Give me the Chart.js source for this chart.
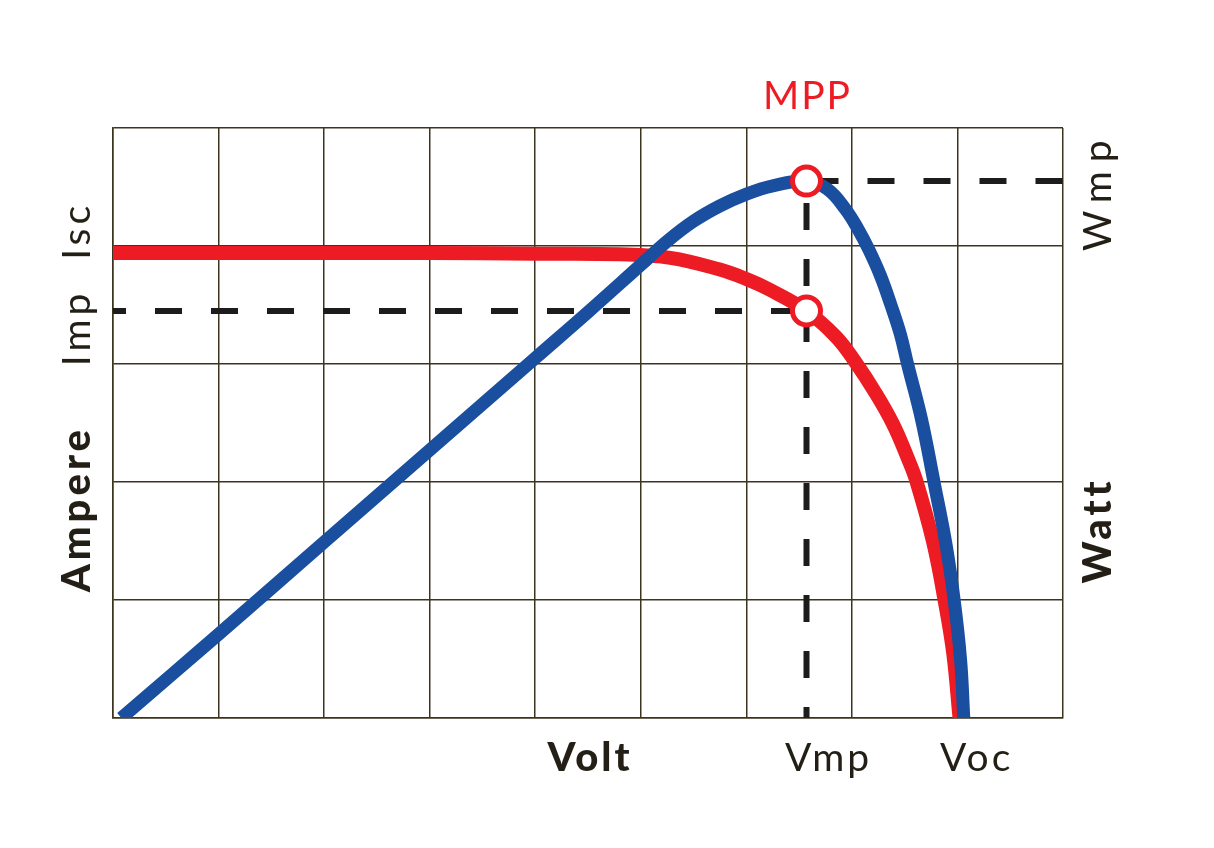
<!DOCTYPE html>
<html>
<head>
<meta charset="utf-8">
<script src="https://cdn.jsdelivr.net/npm/chart.js@4.4.1/dist/chart.umd.min.js"></script>
<style>
  html, body { margin: 0; padding: 0; background: #fff; }
  #wrap { width: 1214px; height: 848px; position: relative; }
</style>
</head>
<body>
<div id="wrap"><canvas id="ivChart"></canvas></div>
<script>
// I-V curve (Ampere) sampled along Volt
const ampVolt = [0, 1, 2, 3, 4, 4.8, 5.28, 5.75, 6, 6.22, 6.57, 6.85, 7.03, 7.22, 7.39, 7.53, 7.61, 7.77, 7.88, 7.96, 8.02];
const ampere  = [3.94, 3.94, 3.94, 3.94, 3.935, 3.93, 3.90, 3.80, 3.72, 3.63, 3.45, 3.23, 3.02, 2.76, 2.49, 2.20, 2.01, 1.49, 0.99, 0.55, 0];

// P-V curve (Watt) sampled along Volt
const wattVolt = [0.08, 1, 2, 3, 4, 4.5, 5, 5.25, 5.5, 5.75, 6, 6.25, 6.57, 6.77, 6.94, 7.06, 7.16, 7.27, 7.37, 7.46, 7.53, 7.66, 7.78, 7.89, 7.97, 8.03, 8.06];
const watt     = [0, 0.71, 1.49, 2.27, 3.05, 3.44, 3.84, 4.04, 4.21, 4.34, 4.44, 4.51, 4.55, 4.48, 4.31, 4.14, 3.97, 3.75, 3.50, 3.25, 2.99, 2.53, 1.99, 1.48, 0.99, 0.49, 0];

// maximum power point
const VMP = 6.57, IMP = 3.45, WMP = 4.55, VOC = 8.05;
const X_MAX = 9, Y_MAX = 5;

const RED = '#ed1c24';
const BLUE = '#1a4f9f';
const INK = '#231f16';
const GRID = '#3d3420';

function pts(xs, ys) {
  return xs.map((x, i) => ({ x: x, y: ys[i] }));
}

// labels drawn from the scales
const labelPlugin = {
  id: 'labels',
  afterDraw(chart) {
    const ctx = chart.ctx;
    const xs = chart.scales.x, ys = chart.scales.y;
    const area = chart.chartArea;
    ctx.save();
    ctx.fillStyle = INK;
    ctx.textAlign = 'center';
    ctx.textBaseline = 'alphabetic';

    const light = '400 39px Lato';
    const bold = '900 40px Lato';

    // bottom
    ctx.font = bold;
    ctx.letterSpacing = '3px';
    ctx.fillText('Volt', (xs.getPixelForValue(4) + xs.getPixelForValue(5)) / 2 + 2, area.bottom + 53);
    ctx.font = light;
    ctx.letterSpacing = '3px';
    ctx.fillText('Vmp', xs.getPixelForValue(VMP) + 22, area.bottom + 53);
    ctx.fillText('Voc', xs.getPixelForValue(VOC) + 14, area.bottom + 53);

    // top
    ctx.fillStyle = RED;
    ctx.letterSpacing = '2px';
    ctx.fillText('MPP', xs.getPixelForValue(VMP) + 1, area.top - 19);

    // rotated side labels
    function side(text, font, spacing, x, y) {
      ctx.save();
      ctx.translate(x, y);
      ctx.rotate(-Math.PI / 2);
      ctx.font = font;
      ctx.letterSpacing = spacing;
      ctx.fillText(text, 0, 0);
      ctx.restore();
    }
    ctx.fillStyle = INK;
    side('Isc', light, '4px', area.left - 23, ys.getPixelForValue(IMP) - 80);
    side('Imp', light, '4px', area.left - 23, ys.getPixelForValue(IMP) + 17);
    side('Ampere', bold, '4px', area.left - 23, ys.getPixelForValue(1.77));
    side('Wmp', light, '9px', area.right + 48, ys.getPixelForValue(WMP) + 10);
    side('Watt', bold, '4px', area.right + 48, ys.getPixelForValue(1.59));
    ctx.restore();
  }
};

const dash = {
  borderColor: '#1c1c1c',
  borderWidth: 6,
  borderDash: [27, 29],
  pointRadius: 0,
  fill: false,
  tension: 0,
  order: 3
};

new Chart(document.getElementById('ivChart'), {
  type: 'line',
  data: {
    datasets: [
      {
        label: 'MPP',
        data: [{ x: VMP, y: WMP }, { x: VMP, y: IMP }],
        showLine: false,
        pointRadius: 14,
        pointBorderWidth: 5,
        pointBackgroundColor: '#fff',
        pointBorderColor: RED,
        order: 0
      },
      {
        label: 'Watt',
        data: pts(wattVolt, watt),
        borderColor: BLUE,
        borderWidth: 13,
        pointRadius: 0,
        tension: 0.4,
        clip: 0,
        order: 1
      },
      {
        label: 'Ampere',
        data: pts(ampVolt, ampere),
        borderColor: RED,
        borderWidth: 14,
        pointRadius: 0,
        tension: 0.4,
        clip: 0,
        order: 2
      },
      Object.assign({ label: 'Imp', data: [{ x: 0, y: IMP }, { x: VMP, y: IMP }], borderDashOffset: 14 }, dash),
      Object.assign({ label: 'Wmp', data: [{ x: VMP, y: WMP }, { x: X_MAX, y: WMP }], borderDashOffset: 51 }, dash),
      Object.assign({ label: 'Vmp', data: [{ x: VMP, y: WMP }, { x: VMP, y: 0 }], borderDashOffset: 34 }, dash)
    ]
  },
  options: {
    responsive: true,
    maintainAspectRatio: false,
    animation: false,
    layout: { padding: { left: 113, right: 151, top: 128, bottom: 130 } },
    plugins: { legend: { display: false }, tooltip: { enabled: false } },
    scales: {
      x: {
        type: 'linear',
        min: 0,
        max: X_MAX,
        ticks: { display: false, stepSize: 1 },
        grid: { color: GRID, lineWidth: 1.5, drawTicks: false },
        border: { color: GRID, width: 1.5 }
      },
      y: {
        min: 0,
        max: Y_MAX,
        ticks: { display: false, stepSize: 1 },
        grid: { color: GRID, lineWidth: 1.5, drawTicks: false },
        border: { color: GRID, width: 1.5 }
      }
    }
  },
  plugins: [labelPlugin]
});
</script>
</body>
</html>
